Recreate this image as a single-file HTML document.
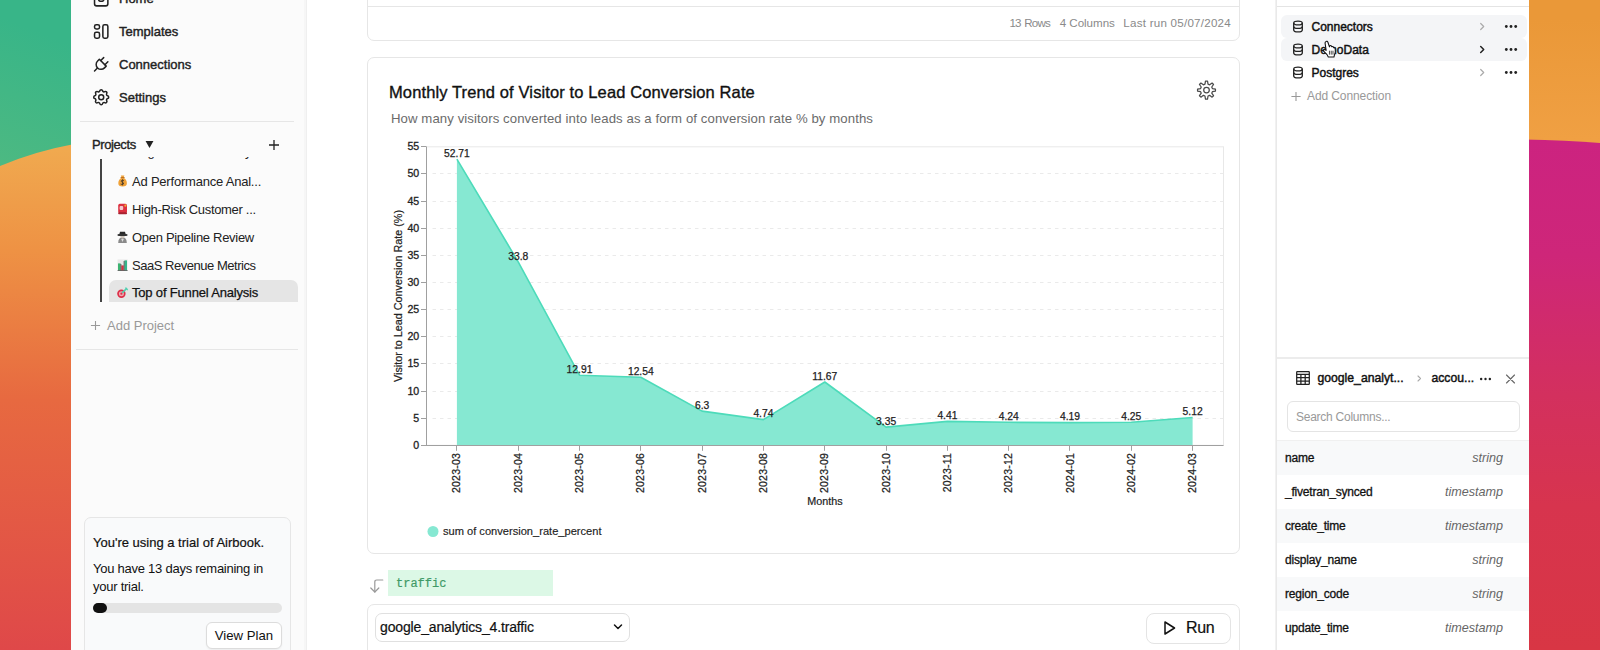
<!DOCTYPE html>
<html lang="en">
<head>
<meta charset="utf-8">
<title>Airbook - Top of Funnel Analysis</title>
<style>
*{box-sizing:border-box;margin:0;padding:0}
html,body{width:1600px;height:650px;overflow:hidden}
body{position:relative;font-family:"Liberation Sans",sans-serif;color:#1a1a1a;background:#e76940}
.abs{position:absolute}
#bg{position:absolute;left:0;top:0;width:1600px;height:650px}
#win{position:absolute;left:71px;top:0;width:1458px;height:650px;background:#fff;overflow:hidden}
#side{position:absolute;left:0;top:0;width:236px;height:650px;background:#fbfbfb;border-right:1px solid #efefef;box-shadow:inset -2px 0 0 #f6f6f6}
.nav{position:absolute;left:48px;font-size:13px;color:#222;line-height:16px;white-space:nowrap;-webkit-text-stroke:.4px #222}
.hr{position:absolute;height:1px;background:#e6e6e6}
.proj{position:absolute;left:61px;font-size:13px;line-height:16px;color:#222;white-space:nowrap;letter-spacing:-.15px}
.emo{position:absolute;left:46px;width:11px;height:12px}
.t13{font-size:13px;line-height:16px;white-space:nowrap}
.card{position:absolute;left:296px;width:873px;border:1px solid #e6e6e6;border-radius:7px;background:#fff}
#right{position:absolute;left:1205px;top:0;width:253px;height:650px;border-left:1px solid #e9e9e9;background:#fff;box-shadow:-1px 0 0 #f1f1f1}
.crow{position:absolute;left:4px;width:246px;height:23px;border-radius:6px}
.ctext{position:absolute;left:34.5px;font-size:12px;line-height:14px;color:#111;white-space:nowrap;-webkit-text-stroke:.45px #111}
.col{position:absolute;left:0;width:252px;height:34px}
.col b{position:absolute;left:8px;top:10px;font-weight:normal;font-size:12px;line-height:14px;color:#111;-webkit-text-stroke:.3px #111;white-space:nowrap;letter-spacing:-.2px}
.col i{position:absolute;right:26px;top:10px;font-size:12.600px;line-height:14px;color:#666;white-space:nowrap}
</style>
</head>
<body>
<svg id="bg" viewBox="0 0 1600 650" preserveAspectRatio="none">
  <defs>
    <linearGradient id="gl" gradientUnits="userSpaceOnUse" x1="0" y1="150" x2="0" y2="650">
      <stop offset="0" stop-color="#f0a94f"/>
      <stop offset="0.2" stop-color="#ee9244"/>
      <stop offset="0.5" stop-color="#e76940"/>
      <stop offset="1" stop-color="#df4849"/>
    </linearGradient>
    <linearGradient id="gg" gradientUnits="userSpaceOnUse" x1="60" y1="40" x2="10" y2="165"><stop offset="0" stop-color="#38b588"/><stop offset="1" stop-color="#4cb982"/></linearGradient>
    <linearGradient id="go" gradientUnits="userSpaceOnUse" x1="0" y1="20" x2="0" y2="140"><stop offset="0" stop-color="#ea9838"/><stop offset="1" stop-color="#f0a043"/></linearGradient>
    <linearGradient id="gr" gradientUnits="userSpaceOnUse" x1="0" y1="140" x2="0" y2="650">
      <stop offset="0" stop-color="#cc2380"/>
      <stop offset="0.225" stop-color="#ce2679"/>
      <stop offset="0.5" stop-color="#d3305e"/>
      <stop offset="0.716" stop-color="#d7344e"/>
      <stop offset="1" stop-color="#d83644"/>
    </linearGradient>
  </defs>
  <rect x="0" y="0" width="80" height="170" fill="url(#gg)"/>
  <path d="M0 166 Q36 151 72 144.500 L72 650 L0 650 Z" fill="url(#gl)"/>
  <rect x="1520" y="0" width="80" height="145" fill="url(#go)"/>
  <path d="M1520 139.500 Q1565 140 1600 143 L1600 650 L1520 650 Z" fill="url(#gr)"/>
</svg>
<div id="win">
<div id="side">
<svg class="abs" style="left:20px;top:-11px;width:20px;height:20px;overflow:visible" viewBox="0 0 24 24" fill="none" stroke="#222" stroke-width="1.85" stroke-linecap="round" stroke-linejoin="round"><g transform="translate(0.240,0.240)"><rect x="4" y="4" width="16" height="16" rx="2.500"/><path d="M9 9v3.500q0 2 3 2t3-2V9"/></g></svg>
<div class="nav" style="top:-9px">Home</div>
<svg class="abs" style="left:20px;top:21px;width:20px;height:20px;overflow:visible" viewBox="0 0 24 24" fill="none" stroke="#222" stroke-width="1.85" stroke-linecap="round" stroke-linejoin="round"><g transform="translate(0.240,0.600)"><path d="M4 4m0 2a2 2 0 0 1 2 -2h2a2 2 0 0 1 2 2v1a2 2 0 0 1 -2 2h-2a2 2 0 0 1 -2 -2z"/><path d="M4 13m0 2a2 2 0 0 1 2 -2h2a2 2 0 0 1 2 2v3a2 2 0 0 1 -2 2h-2a2 2 0 0 1 -2 -2z"/><path d="M14 4m0 2a2 2 0 0 1 2 -2h2a2 2 0 0 1 2 2v12a2 2 0 0 1 -2 2h-2a2 2 0 0 1 -2 -2z"/></g></svg>
<div class="nav" style="top:24px">Templates</div>
<svg class="abs" style="left:20px;top:54px;width:20px;height:20px;overflow:visible" viewBox="0 0 24 24" fill="none" stroke="#222" stroke-width="1.8" stroke-linecap="round" stroke-linejoin="round"><g transform="translate(0.240,0.360)"><path d="M9.785 6l8.215 8.215l-2.054 2.054a5.810 5.810 0 1 1 -8.215 -8.215l2.054 -2.054z"/><path d="M4 20l3.500 -3.500"/><path d="M15 4l-3.500 3.500"/><path d="M20 9l-3.500 3.500"/></g></svg>
<div class="nav" style="top:57px">Connections</div>
<svg class="abs" style="left:20px;top:87px;width:20px;height:20px;overflow:visible" viewBox="0 0 24 24" fill="none" stroke="#222" stroke-width="1.8" stroke-linecap="round" stroke-linejoin="round"><g transform="translate(0.240,0.240)"><path d="M10.325 4.317c.426 -1.756 2.924 -1.756 3.35 0a1.724 1.724 0 0 0 2.573 1.066c1.543 -.94 3.31 .826 2.37 2.37a1.724 1.724 0 0 0 1.065 2.572c1.756 .426 1.756 2.924 0 3.35a1.724 1.724 0 0 0 -1.066 2.573c.94 1.543 -.826 3.31 -2.37 2.37a1.724 1.724 0 0 0 -2.572 1.065c-.426 1.756 -2.924 1.756 -3.35 0a1.724 1.724 0 0 0 -2.573 -1.066c-1.543 .94 -3.31 -.826 -2.37 -2.37a1.724 1.724 0 0 0 -1.065 -2.572c-1.756 -.426 -1.756 -2.924 0 -3.35a1.724 1.724 0 0 0 1.066 -2.573c-.94 -1.543 .826 -3.31 2.37 -2.37c1 .608 2.296 .07 2.572 -1.065z"/><path d="M9 12a3 3 0 1 0 6 0a3 3 0 0 0 -6 0"/></g></svg>
<div class="nav" style="top:90px">Settings</div>
<div class="hr" style="left:9px;top:121px;width:214px"></div>
<div class="nav" style="left:21px;top:137px;letter-spacing:-.4px;-webkit-text-stroke:.35px #222">Projects</div>
<svg class="abs" style="left:74px;top:141px;width:8px;height:7px;overflow:visible" viewBox="0 0 9 8"><g transform="translate(0.562,0.000)"><path d="M0 0h9L4.500 8z" fill="#222"/></g></svg>
<svg class="abs" style="left:197px;top:139px;width:12px;height:12px" viewBox="0 0 12 12" stroke="#222" stroke-width="1.300" fill="none"><path d="M6 1v10M1 6h10"/></svg>
<div class="abs" style="left:0;top:157px;width:236px;height:145px;overflow:hidden">
<div class="abs" style="left:29.200px;top:2px;width:1.600px;height:143px;background:#444"></div>
<div class="proj" style="top:-12.600px">Page Visitors Weekly</div>
<div class="abs" style="left:38px;top:123px;width:189px;height:28px;background:#e5e5e5;border-radius:7px"></div>
<svg class="abs" style="left:46px;top:18.0px;width:11px;height:12px" viewBox="0 0 11 12"><path d="M3.800 .6h3.600l-.9 2.200q3.400 1.800 3.400 5.400 0 3.200-4.300 3.200t-4.300-3.200q0-3.600 3.400-5.400z" fill="#f0a238"/><path d="M3.600 2.600h4" stroke="#b86a1c" stroke-width="1"/><path d="M6.900 5.600q-1.400-.9-2.500 0-.8 1 .8 1.600 1.900.6 1.200 1.800-1 1-2.800 0M5.600 4.400v6" fill="none" stroke="#4a3a2a" stroke-width=".9"/></svg>
<div class="proj" style="top:16.5px;letter-spacing:-0.21px">Ad Performance Anal...</div>
<svg class="abs" style="left:46px;top:46.0px;width:11px;height:12px" viewBox="0 0 11 12"><rect x="1.200" y=".8" width="8.800" height="9.400" rx="1.600" fill="#dc3040"/><rect x="1.200" y="9.200" width="8.800" height="2" rx=".8" fill="#a82230"/><rect x="2.600" y="3" width="3.600" height="4" rx="1" fill="#f3c9cd"/><rect x="7.400" y="1.400" width="2" height="2.400" rx=".8" fill="#f0b030"/></svg>
<div class="proj" style="top:44.5px;letter-spacing:-0.32px">High-Risk Customer ...</div>
<svg class="abs" style="left:46px;top:74.0px;width:11px;height:12px" viewBox="0 0 11 12"><path d="M1.200 12q0-5.400 4.300-5.400T9.800 12z" fill="#8a8a8a"/><circle cx="5.500" cy="5.600" r="2.100" fill="#cfc6bc"/><path d="M4.200 8l1.300 3 1.300-3z" fill="#ddd"/><path d="M3 .8h5l.8 3H2.200z" fill="#2a2a2a"/><ellipse cx="5.500" cy="3.900" rx="5.200" ry="1.200" fill="#333"/></svg>
<div class="proj" style="top:72.5px;letter-spacing:-0.3px">Open Pipeline Review</div>
<svg class="abs" style="left:46px;top:102.0px;width:11px;height:12px" viewBox="0 0 11 12"><rect x=".6" y=".4" width="10" height="11.400" fill="#e9e9e9"/><rect x="1" y="4.400" width="2.600" height="7" fill="#3cb371"/><rect x="4.300" y="6.400" width="2.400" height="5" fill="#d93040"/><rect x="7.400" y="1.400" width="2.600" height="10" fill="#35b58a"/><path d="M3.900 5v6.500M7.100 2v9.500" stroke="#333" stroke-width=".7"/><path d="M.6 11.500h10" stroke="#444" stroke-width=".7"/></svg>
<div class="proj" style="top:100.5px;letter-spacing:-0.47px">SaaS Revenue Metrics</div>
<svg class="abs" style="left:46px;top:129px;width:11px;height:12px;overflow:visible" viewBox="0 0 11 12"><g transform="translate(0.000,0.500)"><circle cx="4.400" cy="7.200" r="4.200" fill="#dd2f48"/><circle cx="4.400" cy="7.200" r="2.500" fill="#f0a9b3"/><circle cx="4.400" cy="7.200" r="1.100" fill="#dd2f48"/><path d="M5.200 6.400L10 1.600" stroke="#4fd0b0" stroke-width="1.500"/><path d="M8.400 1.200l2.400 2.400" stroke="#4fd0b0" stroke-width="1.200"/></g></svg>
<div class="proj" style="top:128px;letter-spacing:-0.18px;color:#111;-webkit-text-stroke:.25px #111">Top of Funnel Analysis</div>
</div>
<svg class="abs" style="left:19px;top:320px;width:11px;height:11px" viewBox="0 0 12 12" stroke="#999" stroke-width="1.200" fill="none"><path d="M6 1v10M1 6h10"/></svg>
<div class="t13 abs" style="left:36px;top:318px;color:#999">Add Project</div>
<div class="hr" style="left:5px;top:348.500px;width:222px"></div>
<div class="abs" style="left:13px;top:517px;width:207px;height:150px;border:1px solid #e6e6e6;border-radius:7px;background:#f9fafb"></div>
<div class="t13 abs" style="left:22px;top:535px;color:#111;-webkit-text-stroke:.2px #111">You're using a trial of Airbook.</div>
<div class="t13 abs" style="left:22px;top:560px;color:#111;line-height:18px;white-space:normal;width:190px;letter-spacing:-.25px">You have 13 days remaining in your trial.</div>
<div class="abs" style="left:22px;top:603px;width:188.500px;height:10px;border-radius:5px;background:#e4e4e4"></div>
<div class="abs" style="left:22px;top:603px;width:13.500px;height:10px;border-radius:5px;background:#111"></div>
<div class="abs" style="left:135px;top:621.500px;width:76px;height:27.500px;border:1px solid #dcdcdc;border-radius:6px;background:#fff;box-shadow:0 1px 2px rgba(0,0,0,.06);font-size:13.200px;line-height:25.500px;text-align:center;color:#111">View Plan</div>
</div>
<div id="main">
<div class="card" style="top:-30px;height:71px"></div>
<div class="abs" style="left:297px;top:6px;width:871px;height:1px;background:#e6e6e6"></div>
<div class="abs" style="right:298px;top:16px;font-size:11.600px;line-height:14px;color:#8a8a8a;white-space:nowrap"><span style="letter-spacing:-.85px;word-spacing:1.200px">13 Rows</span><span style="margin-left:9.800px;letter-spacing:-.02px">4 Columns</span><span style="margin-left:8.400px;letter-spacing:.24px">Last run 05/07/2024</span></div>
<div class="card" style="top:57px;height:497px"></div>
<div class="abs" style="left:318px;top:82px;font-size:16.500px;line-height:20px;color:#111;white-space:nowrap;letter-spacing:.12px;-webkit-text-stroke:.35px #111">Monthly Trend of Visitor to Lead Conversion Rate</div>
<div class="abs" style="left:320px;top:111px;font-size:13.200px;line-height:16px;color:#6b6b6b;white-space:nowrap;letter-spacing:.08px">How many visitors converted into leads as a form of conversion rate % by months</div>
<svg class="abs" style="left:1123px;top:78px;width:24px;height:24px" viewBox="0 0 24 24" fill="none" stroke="#4a4a4a" stroke-width="1.250" stroke-linecap="round" stroke-linejoin="round"><g transform="translate(.5,.1)"><path d="M10.47 6.09 L10.98 3.06 L13.02 3.06 L13.53 6.09 L15.10 6.74 L17.60 4.96 L19.04 6.40 L17.26 8.90 L17.91 10.47 L20.94 10.98 L20.94 13.02 L17.91 13.53 L17.26 15.10 L19.04 17.60 L17.60 19.04 L15.10 17.26 L13.53 17.91 L13.02 20.94 L10.98 20.94 L10.47 17.91 L8.90 17.26 L6.40 19.04 L4.96 17.60 L6.74 15.10 L6.09 13.53 L3.06 13.02 L3.06 10.98 L6.09 10.47 L6.74 8.90 L4.96 6.40 L6.40 4.96 L8.90 6.74Z"/><circle cx="12" cy="12" r="2.800"/></g></svg>
<svg class="abs" style="left:-71px;top:0;width:1600px;height:650px" viewBox="0 0 1600 650" font-family="Liberation Sans, sans-serif">
<rect x="426.5" y="146.8" width="797.0" height="298.5" fill="none" stroke="#e8e8e8" stroke-width="1"/>
<line x1="432.5" x2="1223.5" y1="418.5" y2="418.5" stroke="#eaeaea" stroke-width="1" stroke-dasharray="3.500 4"/>
<line x1="432.5" x2="1223.5" y1="391.5" y2="391.5" stroke="#eaeaea" stroke-width="1" stroke-dasharray="3.500 4"/>
<line x1="432.5" x2="1223.5" y1="363.5" y2="363.5" stroke="#eaeaea" stroke-width="1" stroke-dasharray="3.500 4"/>
<line x1="432.5" x2="1223.5" y1="336.5" y2="336.5" stroke="#eaeaea" stroke-width="1" stroke-dasharray="3.500 4"/>
<line x1="432.5" x2="1223.5" y1="309.5" y2="309.5" stroke="#eaeaea" stroke-width="1" stroke-dasharray="3.500 4"/>
<line x1="432.5" x2="1223.5" y1="282.5" y2="282.5" stroke="#eaeaea" stroke-width="1" stroke-dasharray="3.500 4"/>
<line x1="432.5" x2="1223.5" y1="255.5" y2="255.5" stroke="#eaeaea" stroke-width="1" stroke-dasharray="3.500 4"/>
<line x1="432.5" x2="1223.5" y1="228.5" y2="228.5" stroke="#eaeaea" stroke-width="1" stroke-dasharray="3.500 4"/>
<line x1="432.5" x2="1223.5" y1="201.5" y2="201.5" stroke="#eaeaea" stroke-width="1" stroke-dasharray="3.500 4"/>
<line x1="432.5" x2="1223.5" y1="173.5" y2="173.5" stroke="#eaeaea" stroke-width="1" stroke-dasharray="3.500 4"/>
<polygon points="456.9,445.3 456.9,159.2 518.2,261.9 579.5,375.2 640.8,377.2 702.1,411.1 763.4,419.6 824.8,382.0 886.1,427.1 947.4,421.4 1008.7,422.3 1070.0,422.6 1131.3,422.2 1192.6,417.5 1192.6,445.3" fill="#86e8d2"/>
<polyline points="456.9,159.2 518.2,261.9 579.5,375.2 640.8,377.2 702.1,411.1 763.4,419.6 824.8,382.0 886.1,427.1 947.4,421.4 1008.7,422.3 1070.0,422.6 1131.3,422.2 1192.6,417.5" fill="none" stroke="#4ddbba" stroke-width="1.600" stroke-linejoin="round"/>
<line x1="426.5" x2="426.5" y1="146.8" y2="445.8" stroke="#a0a0a0" stroke-width="1"/>
<line x1="426.0" x2="1223.5" y1="445.500" y2="445.500" stroke="#a0a0a0" stroke-width="1"/>
<line x1="421.0" x2="426.5" y1="445.5" y2="445.5" stroke="#a0a0a0" stroke-width="1"/>
<text x="419.2" y="448.9" font-size="10.600" text-anchor="end" fill="#222" stroke="#222" stroke-width=".3">0</text>
<line x1="421.0" x2="426.5" y1="418.5" y2="418.5" stroke="#a0a0a0" stroke-width="1"/>
<text x="419.2" y="421.9" font-size="10.600" text-anchor="end" fill="#222" stroke="#222" stroke-width=".3">5</text>
<line x1="421.0" x2="426.5" y1="391.5" y2="391.5" stroke="#a0a0a0" stroke-width="1"/>
<text x="419.2" y="394.9" font-size="10.600" text-anchor="end" fill="#222" stroke="#222" stroke-width=".3">10</text>
<line x1="421.0" x2="426.5" y1="363.5" y2="363.5" stroke="#a0a0a0" stroke-width="1"/>
<text x="419.2" y="366.9" font-size="10.600" text-anchor="end" fill="#222" stroke="#222" stroke-width=".3">15</text>
<line x1="421.0" x2="426.5" y1="336.5" y2="336.5" stroke="#a0a0a0" stroke-width="1"/>
<text x="419.2" y="339.9" font-size="10.600" text-anchor="end" fill="#222" stroke="#222" stroke-width=".3">20</text>
<line x1="421.0" x2="426.5" y1="309.5" y2="309.5" stroke="#a0a0a0" stroke-width="1"/>
<text x="419.2" y="312.9" font-size="10.600" text-anchor="end" fill="#222" stroke="#222" stroke-width=".3">25</text>
<line x1="421.0" x2="426.5" y1="282.5" y2="282.5" stroke="#a0a0a0" stroke-width="1"/>
<text x="419.2" y="285.9" font-size="10.600" text-anchor="end" fill="#222" stroke="#222" stroke-width=".3">30</text>
<line x1="421.0" x2="426.5" y1="255.5" y2="255.5" stroke="#a0a0a0" stroke-width="1"/>
<text x="419.2" y="258.9" font-size="10.600" text-anchor="end" fill="#222" stroke="#222" stroke-width=".3">35</text>
<line x1="421.0" x2="426.5" y1="228.5" y2="228.5" stroke="#a0a0a0" stroke-width="1"/>
<text x="419.2" y="231.9" font-size="10.600" text-anchor="end" fill="#222" stroke="#222" stroke-width=".3">40</text>
<line x1="421.0" x2="426.5" y1="201.5" y2="201.5" stroke="#a0a0a0" stroke-width="1"/>
<text x="419.2" y="204.9" font-size="10.600" text-anchor="end" fill="#222" stroke="#222" stroke-width=".3">45</text>
<line x1="421.0" x2="426.5" y1="173.5" y2="173.5" stroke="#a0a0a0" stroke-width="1"/>
<text x="419.2" y="176.9" font-size="10.600" text-anchor="end" fill="#222" stroke="#222" stroke-width=".3">50</text>
<line x1="421.0" x2="426.5" y1="146.5" y2="146.5" stroke="#a0a0a0" stroke-width="1"/>
<text x="419.2" y="149.9" font-size="10.600" text-anchor="end" fill="#222" stroke="#222" stroke-width=".3">55</text>
<line x1="456.5" x2="456.5" y1="445.3" y2="450.8" stroke="#a0a0a0" stroke-width="1"/>
<text transform="translate(460.4,452.800) rotate(-90)" font-size="10.500" letter-spacing=".25" text-anchor="end" fill="#222" stroke="#222" stroke-width=".25">2023-03</text>
<text x="456.9" y="157.0" font-size="10.300" text-anchor="middle" fill="#222" stroke="#222" stroke-width=".25">52.71</text>
<line x1="518.5" x2="518.5" y1="445.3" y2="450.8" stroke="#a0a0a0" stroke-width="1"/>
<text transform="translate(521.7,452.800) rotate(-90)" font-size="10.500" letter-spacing=".25" text-anchor="end" fill="#222" stroke="#222" stroke-width=".25">2023-04</text>
<text x="518.2" y="259.7" font-size="10.300" text-anchor="middle" fill="#222" stroke="#222" stroke-width=".25">33.8</text>
<line x1="579.5" x2="579.5" y1="445.3" y2="450.8" stroke="#a0a0a0" stroke-width="1"/>
<text transform="translate(583.0,452.800) rotate(-90)" font-size="10.500" letter-spacing=".25" text-anchor="end" fill="#222" stroke="#222" stroke-width=".25">2023-05</text>
<text x="579.5" y="373.0" font-size="10.300" text-anchor="middle" fill="#222" stroke="#222" stroke-width=".25">12.91</text>
<line x1="640.5" x2="640.5" y1="445.3" y2="450.8" stroke="#a0a0a0" stroke-width="1"/>
<text transform="translate(644.3,452.800) rotate(-90)" font-size="10.500" letter-spacing=".25" text-anchor="end" fill="#222" stroke="#222" stroke-width=".25">2023-06</text>
<text x="640.8" y="375.0" font-size="10.300" text-anchor="middle" fill="#222" stroke="#222" stroke-width=".25">12.54</text>
<line x1="702.5" x2="702.5" y1="445.3" y2="450.8" stroke="#a0a0a0" stroke-width="1"/>
<text transform="translate(705.6,452.800) rotate(-90)" font-size="10.500" letter-spacing=".25" text-anchor="end" fill="#222" stroke="#222" stroke-width=".25">2023-07</text>
<text x="702.1" y="408.9" font-size="10.300" text-anchor="middle" fill="#222" stroke="#222" stroke-width=".25">6.3</text>
<line x1="763.5" x2="763.5" y1="445.3" y2="450.8" stroke="#a0a0a0" stroke-width="1"/>
<text transform="translate(766.9,452.800) rotate(-90)" font-size="10.500" letter-spacing=".25" text-anchor="end" fill="#222" stroke="#222" stroke-width=".25">2023-08</text>
<text x="763.4" y="417.4" font-size="10.300" text-anchor="middle" fill="#222" stroke="#222" stroke-width=".25">4.74</text>
<line x1="824.5" x2="824.5" y1="445.3" y2="450.8" stroke="#a0a0a0" stroke-width="1"/>
<text transform="translate(828.2,452.800) rotate(-90)" font-size="10.500" letter-spacing=".25" text-anchor="end" fill="#222" stroke="#222" stroke-width=".25">2023-09</text>
<text x="824.8" y="379.8" font-size="10.300" text-anchor="middle" fill="#222" stroke="#222" stroke-width=".25">11.67</text>
<line x1="886.5" x2="886.5" y1="445.3" y2="450.8" stroke="#a0a0a0" stroke-width="1"/>
<text transform="translate(889.6,452.800) rotate(-90)" font-size="10.500" letter-spacing=".25" text-anchor="end" fill="#222" stroke="#222" stroke-width=".25">2023-10</text>
<text x="886.1" y="424.9" font-size="10.300" text-anchor="middle" fill="#222" stroke="#222" stroke-width=".25">3.35</text>
<line x1="947.5" x2="947.5" y1="445.3" y2="450.8" stroke="#a0a0a0" stroke-width="1"/>
<text transform="translate(950.9,452.800) rotate(-90)" font-size="10.500" letter-spacing=".25" text-anchor="end" fill="#222" stroke="#222" stroke-width=".25">2023-11</text>
<text x="947.4" y="419.2" font-size="10.300" text-anchor="middle" fill="#222" stroke="#222" stroke-width=".25">4.41</text>
<line x1="1008.5" x2="1008.5" y1="445.3" y2="450.8" stroke="#a0a0a0" stroke-width="1"/>
<text transform="translate(1012.2,452.800) rotate(-90)" font-size="10.500" letter-spacing=".25" text-anchor="end" fill="#222" stroke="#222" stroke-width=".25">2023-12</text>
<text x="1008.7" y="420.1" font-size="10.300" text-anchor="middle" fill="#222" stroke="#222" stroke-width=".25">4.24</text>
<line x1="1069.5" x2="1069.5" y1="445.3" y2="450.8" stroke="#a0a0a0" stroke-width="1"/>
<text transform="translate(1073.5,452.800) rotate(-90)" font-size="10.500" letter-spacing=".25" text-anchor="end" fill="#222" stroke="#222" stroke-width=".25">2024-01</text>
<text x="1070.0" y="420.4" font-size="10.300" text-anchor="middle" fill="#222" stroke="#222" stroke-width=".25">4.19</text>
<line x1="1131.5" x2="1131.5" y1="445.3" y2="450.8" stroke="#a0a0a0" stroke-width="1"/>
<text transform="translate(1134.8,452.800) rotate(-90)" font-size="10.500" letter-spacing=".25" text-anchor="end" fill="#222" stroke="#222" stroke-width=".25">2024-02</text>
<text x="1131.3" y="420.0" font-size="10.300" text-anchor="middle" fill="#222" stroke="#222" stroke-width=".25">4.25</text>
<line x1="1192.5" x2="1192.5" y1="445.3" y2="450.8" stroke="#a0a0a0" stroke-width="1"/>
<text transform="translate(1196.1,452.800) rotate(-90)" font-size="10.500" letter-spacing=".25" text-anchor="end" fill="#222" stroke="#222" stroke-width=".25">2024-03</text>
<text x="1192.6" y="415.3" font-size="10.300" text-anchor="middle" fill="#222" stroke="#222" stroke-width=".25">5.12</text>
<text transform="translate(402,296) rotate(-90)" font-size="10.800" text-anchor="middle" fill="#222" stroke="#222" stroke-width=".2">Visitor to Lead Conversion Rate (%)</text>
<text x="825" y="505" font-size="10.800" text-anchor="middle" fill="#222" stroke="#222" stroke-width=".2">Months</text>
<circle cx="433" cy="531.500" r="5.500" fill="#86e8d2"/>
<text x="443" y="535" font-size="11.100" fill="#222" stroke="#222" stroke-width=".15">sum of conversion_rate_percent</text>
</svg>
<svg class="abs" style="left:297px;top:576px;width:16px;height:18px;overflow:visible" viewBox="0 0 16 18" fill="none" stroke="#999" stroke-width="1.200" stroke-linecap="round" stroke-linejoin="round"><g transform="translate(0.300,0.500)"><path d="M14.500 3.500H8.500Q6.500 3.500 6.500 5.500V15.500"/><path d="M2.500 11.500l4 4 4-4"/></g></svg>
<div class="abs" style="left:317px;top:570px;width:165px;height:26px;background:#dcf8e6"></div>
<div class="abs" style="left:325px;top:577.300px;font-family:'Liberation Mono',monospace;font-size:12px;line-height:15px;color:#3f9a66;-webkit-text-stroke:.2px #3f9a66">traffic</div>
<div class="card" style="top:604px;height:80px"></div>
<div class="abs" style="left:304px;top:613px;width:255px;height:29px;border:1px solid #e0e0e0;border-radius:7px;background:#fff"></div>
<div class="abs" style="left:309px;top:619px;font-size:14px;line-height:17px;color:#111;white-space:nowrap;letter-spacing:-.15px;-webkit-text-stroke:.2px #111">google_analytics_4.traffic</div>
<svg class="abs" style="left:542px;top:623px;width:10px;height:8px" viewBox="0 0 10 8" fill="none" stroke="#111" stroke-width="1.500" stroke-linecap="round" stroke-linejoin="round"><path d="M1.500 2l3.500 3.500L8.500 2"/></svg>
<div class="abs" style="left:1075px;top:613px;width:85px;height:31px;border:1px solid #e4e4e4;border-radius:8px;background:#fff"></div>
<svg class="abs" style="left:1092px;top:620px;width:14px;height:16px" viewBox="0 0 14 16" fill="none" stroke="#111" stroke-width="1.500" stroke-linejoin="round"><path d="M2 2l9.500 6L2 14z"/></svg>
<div class="abs" style="left:1115px;top:618px;font-size:16px;line-height:20px;letter-spacing:-.35px;color:#111;-webkit-text-stroke:.2px #111">Run</div>
</div>
<div id="right">
<div class="abs" style="left:0;top:6px;width:252px;height:1px;background:#e4e4e4"></div>
<div class="crow" style="top:15px;background:#f4f5f7"></div>
<div class="crow" style="top:38px;background:#f4f5f7"></div>
<svg class="abs" style="left:15px;top:20.0px;width:12px;height:13px" viewBox="0 0 12 13" fill="none" stroke="#222" stroke-width="1.300"><ellipse cx="6" cy="3" rx="4.300" ry="1.900"/><path d="M1.700 3v7q0 1.900 4.300 1.900t4.300-1.900V3"/><path d="M1.700 6.500q0 1.900 4.300 1.900t4.300-1.900"/></svg>
<div class="ctext" style="top:20.0px">Connectors</div>
<svg class="abs" style="left:202px;top:22px;width:6px;height:9px;overflow:visible" viewBox="0 0 6 9" fill="none" stroke="#aaa" stroke-width="1.2" stroke-linecap="round" stroke-linejoin="round"><g transform="translate(0.700,0.000)"><path d="M1 1.500l3 3L1 7.500"/></g></svg>
<svg class="abs" style="left:227px;top:24px;width:13px;height:4px;overflow:visible" viewBox="0 0 13 4" fill="#222"><g transform="translate(0.500,0.500)"><circle cx="1.800" cy="2" r="1.400"/><circle cx="6.500" cy="2" r="1.400"/><circle cx="11.200" cy="2" r="1.400"/></g></svg>
<svg class="abs" style="left:15px;top:43.0px;width:12px;height:13px" viewBox="0 0 12 13" fill="none" stroke="#222" stroke-width="1.300"><ellipse cx="6" cy="3" rx="4.300" ry="1.900"/><path d="M1.700 3v7q0 1.900 4.300 1.900t4.300-1.900V3"/><path d="M1.700 6.500q0 1.900 4.300 1.900t4.300-1.900"/></svg>
<div class="ctext" style="top:43.0px">DemoData</div>
<svg class="abs" style="left:202px;top:45px;width:6px;height:9px;overflow:visible" viewBox="0 0 6 9" fill="none" stroke="#222" stroke-width="1.5" stroke-linecap="round" stroke-linejoin="round"><g transform="translate(0.700,0.000)"><path d="M1 1.500l3 3L1 7.500"/></g></svg>
<svg class="abs" style="left:227px;top:47px;width:13px;height:4px;overflow:visible" viewBox="0 0 13 4" fill="#222"><g transform="translate(0.500,0.500)"><circle cx="1.800" cy="2" r="1.400"/><circle cx="6.500" cy="2" r="1.400"/><circle cx="11.200" cy="2" r="1.400"/></g></svg>
<svg class="abs" style="left:15px;top:66.0px;width:12px;height:13px" viewBox="0 0 12 13" fill="none" stroke="#222" stroke-width="1.300"><ellipse cx="6" cy="3" rx="4.300" ry="1.900"/><path d="M1.700 3v7q0 1.900 4.300 1.900t4.300-1.900V3"/><path d="M1.700 6.500q0 1.900 4.300 1.900t4.300-1.900"/></svg>
<div class="ctext" style="top:66.0px">Postgres</div>
<svg class="abs" style="left:202px;top:68px;width:6px;height:9px;overflow:visible" viewBox="0 0 6 9" fill="none" stroke="#aaa" stroke-width="1.2" stroke-linecap="round" stroke-linejoin="round"><g transform="translate(0.700,0.000)"><path d="M1 1.500l3 3L1 7.500"/></g></svg>
<svg class="abs" style="left:227px;top:70px;width:13px;height:4px;overflow:visible" viewBox="0 0 13 4" fill="#222"><g transform="translate(0.500,0.500)"><circle cx="1.800" cy="2" r="1.400"/><circle cx="6.500" cy="2" r="1.400"/><circle cx="11.200" cy="2" r="1.400"/></g></svg>
<svg class="abs" style="left:43px;top:40px;width:17.5px;height:19.5px;overflow:visible" viewBox="0 0 16 20"><g transform="translate(0.731,0.000)"><path d="M4.500 1.500q1.300-.6 1.900.8L8 7l.4-1.200q1.200-.5 1.700.5l.3.600q1.100-.6 1.700.4l.3.700q1.200-.3 1.500.8.600 3.500-.7 6.200l-.6 2.500H6.800L5.500 15 2 11.300q-.6-1.200.6-1.600l2 .9L3.500 3.200q-.2-1.200 1-1.700z" fill="#fff" stroke="#111" stroke-width="1.100" stroke-linejoin="round"/><path d="M8 11v4M9.800 11v4M11.600 11v4" stroke="#111" stroke-width=".8"/></g></svg>
<svg class="abs" style="left:13px;top:91px;width:11px;height:11px;overflow:visible" viewBox="0 0 12 12" stroke="#999" stroke-width="1.200" fill="none"><g transform="translate(0.545,0.000)"><path d="M6 1v10M1 6h10"/></g></svg>
<div class="abs" style="left:30px;top:89px;font-size:12px;line-height:14px;color:#999;white-space:nowrap;letter-spacing:-.1px">Add Connection</div>
<div class="abs" style="left:0;top:357px;width:252px;height:2px;background:#ececec"></div>
<svg class="abs" style="left:19px;top:371px;width:14px;height:14px" viewBox="0 0 14 14" fill="none" stroke="#222" stroke-width="1.250"><rect x=".7" y=".7" width="12.600" height="12.600" rx=".6"/><path d="M.7 3.300h12.600M.7 6.700h12.600M.7 10h12.600M4.900 3.300v10M9.200 3.300v10"/></svg>
<div class="ctext" style="left:40.500px;top:371px;font-size:12.200px">google_analyt...</div>
<svg class="abs" style="left:140px;top:375px;width:5px;height:7px" viewBox="0 0 5 7" fill="none" stroke="#aaa" stroke-width="1.100" stroke-linecap="round" stroke-linejoin="round"><path d="M1 1l2.500 2.500L1 6"/></svg>
<div class="ctext" style="left:154.500px;top:371px;font-size:12.200px">accou...</div>
<svg class="abs" style="left:202px;top:377px;width:12px;height:4px;overflow:visible" viewBox="0 0 13 4" fill="#222"><g transform="translate(0.542,0.000)"><circle cx="1.800" cy="2" r="1.300"/><circle cx="6.500" cy="2" r="1.300"/><circle cx="11.200" cy="2" r="1.300"/></g></svg>
<svg class="abs" style="left:228px;top:374px;width:10px;height:10px;overflow:visible" viewBox="0 0 10 10" fill="none" stroke="#666" stroke-width="1.100" stroke-linecap="round"><g transform="translate(0.500,0.000)"><path d="M1 1l8 8M9 1l-8 8"/></g></svg>
<div class="abs" style="left:10px;top:401px;width:233px;height:30.500px;border:1px solid #e4e4e4;border-radius:6px;background:#fff"></div>
<div class="abs" style="left:19px;top:410px;font-size:12px;line-height:14px;color:#999;white-space:nowrap;letter-spacing:-.25px">Search Columns...</div>
<div class="abs" style="left:0;top:440px;width:252px;height:1px;background:#f0f0f0"></div>
<div class="col" style="top:441px;background:#f8f9fa"><b>name</b><i>string</i></div>
<div class="col" style="top:475px;background:#fff"><b>_fivetran_synced</b><i>timestamp</i></div>
<div class="col" style="top:509px;background:#f8f9fa"><b>create_time</b><i>timestamp</i></div>
<div class="col" style="top:543px;background:#fff"><b>display_name</b><i>string</i></div>
<div class="col" style="top:577px;background:#f8f9fa"><b>region_code</b><i>string</i></div>
<div class="col" style="top:611px;background:#fff"><b>update_time</b><i>timestamp</i></div>
</div>
</div>
</body>
</html>
